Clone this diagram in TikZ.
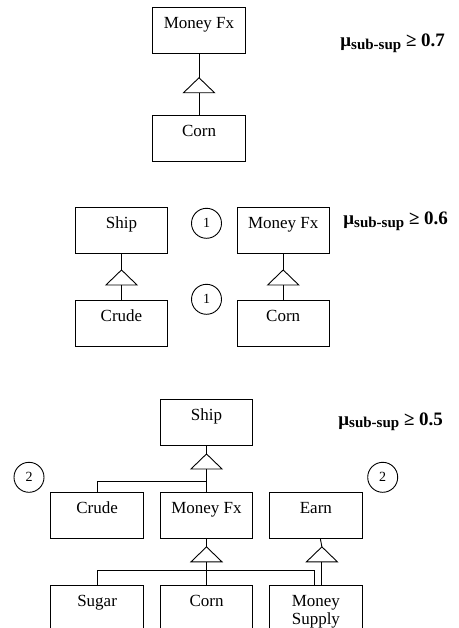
\documentclass[tikz,border=0pt]{standalone}
\usepackage{fontspec}
\setmainfont{Liberation Serif}
\usepackage{tikz}
\usetikzlibrary{positioning}

\begin{document}
\begin{tikzpicture}
	[x=1pt, y=-1pt, line width=0.9pt,
	klass/.style={rectangle, draw, minimum width=92.5pt, inner xsep=2pt,
		inner ysep=0pt, text height=21pt, text depth=25pt, align=center,
		font=\fontsize{17}{18.5}\selectfont},
	ring/.style={circle, draw, minimum size=30pt, inner sep=0pt,
		font=\fontsize{14}{14}\selectfont},
	thr/.style={anchor=base west, inner sep=0pt,
		font=\fontsize{19}{19}\selectfont\bfseries},
	pics/gen/.style={code={
		\draw (0,0) coordinate (-apex) -- (-15.5,15) -- (15.5,15) -- cycle;
		\coordinate (-base) at (0,15);}},
	node distance=46pt and 16pt,
	]
	\useasboundingbox (0,0) rectangle (458,628);
	
	% level 0.7
	\node[klass] (mfA) at (199,30.3) {Money Fx};
	\node[klass, below=61.7pt of mfA] (cornA) {Corn};
	\pic (gA) at ([yshift=-24pt]mfA.south) {gen};
	\draw (mfA) -- (gA-apex);
	\draw (gA-base) -- (cornA);
	\node[thr] (muA) at (340,46.7) {μ\raisebox{-2.6pt}{\fontsize{15}{15}\selectfont sub-sup} ≥ 0.7};
	
	% level 0.6
	\node[klass] (shipB) at (121.5,230.2) {Ship};
	\node[klass, below=46.3pt of shipB] (crudeB) {Crude};
	\node[klass] (mfB) at (283.2,230.2) {Money Fx};
	\node[klass, below=46.3pt of mfB] (cornB) {Corn};
	\pic (gB) at ([yshift=-16.3pt]shipB.south) {gen};
	\pic (gBB) at ([yshift=-16.3pt]mfB.south) {gen};
	\draw (shipB) -- (gB-apex);
	\draw (gB-base) -- (crudeB);
	\draw (mfB) -- (gBB-apex);
	\draw (gBB-base) -- (cornB);
	\node[ring] (oneT) at (206.5,223.3) {1};
	\node[ring] (oneB) at (206.5,299.3) {1};
	\node[thr] (muB) at (343,225) {μ\raisebox{-2.6pt}{\fontsize{15}{15}\selectfont sub-sup} ≥ 0.6};
	
	% level 0.5
	\node[klass] (shipC) at (206.5,422.2) {Ship};
	\node[klass, below=of shipC] (mfC) {Money Fx};
	\node[klass, left=of mfC] (crudeC) {Crude};
	\node[klass, right=of mfC] (earnC) {Earn};
	\node[klass, below=of mfC] (cornC) {Corn};
	\node[klass, left=of cornC] (sugarC) {Sugar};
	\node[klass, right=of cornC, text height=39.5pt, text depth=6.5pt] (msC) {Money\\Supply};
	\pic (gC) at ([yshift=-8.3pt]shipC.south) {gen};
	\pic (gCM) at ([yshift=-8.3pt]mfC.south) {gen};
	\pic (gCE) at ([xshift=6pt,yshift=-8.3pt]earnC.south) {gen};
	\draw (shipC) -- (gC-apex);
	\draw (gC-base) -- (mfC);
	\draw (crudeC.north) |- ([yshift=10.3pt]mfC.north);
	\draw (mfC) -- (gCM-apex);
	\draw (gCM-base) -- (cornC);
	\draw (sugarC.north) |- ([xshift=-1.7pt,yshift=14.3pt]msC.north)
		-- ([xshift=-1.7pt]msC.north);
	\draw (earnC) -- (gCE-apex);
	\draw (gCE-base) -- (gCE-base |- msC.north);
	\node[ring] (twoL) at (29,477.3) {2};
	\node[ring] (twoR) at (382.7,477.3) {2};
	\node[thr] (muC) at (338,425) {μ\raisebox{-2.6pt}{\fontsize{15}{15}\selectfont sub-sup} ≥ 0.5};
	
\end{tikzpicture}
\end{document}
